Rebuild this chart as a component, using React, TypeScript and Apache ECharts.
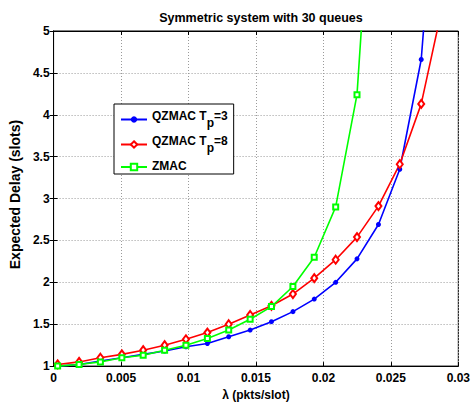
import { useEffect, useRef } from 'react';
import * as echarts from 'echarts';

const lambdaValues = [0.0003, 0.00189, 0.00347, 0.00506, 0.00664, 0.00823, 0.00981, 0.0114, 0.01298, 0.01457, 0.01615, 0.01774, 0.01932, 0.02091, 0.02249, 0.02408, 0.02566, 0.02725, 0.02883];
const qzmacTp3 = [1.0, 1.02, 1.06, 1.1, 1.14, 1.18, 1.23, 1.27, 1.35, 1.43, 1.53, 1.65, 1.8, 2.0, 2.28, 2.69, 3.35, 4.66, 7.9];
const qzmacTp8 = [1.02, 1.05, 1.1, 1.14, 1.19, 1.25, 1.32, 1.4, 1.5, 1.61, 1.72, 1.86, 2.05, 2.27, 2.54, 2.91, 3.41, 4.13, 5.3];
const zmac = [1.0, 1.02, 1.05, 1.1, 1.13, 1.19, 1.25, 1.33, 1.43, 1.56, 1.71, 1.95, 2.3, 2.9, 4.24, 8.1];
const seriesNames = ['QZMAC Tp=3', 'QZMAC Tp=8', 'ZMAC'];
const xTickLabels = ['0', '0.005', '0.01', '0.015', '0.02', '0.025', '0.03'];
const yTickLabels = ['1', '1.5', '2', '2.5', '3', '3.5', '4', '4.5', '5'];

const FONT = '"Liberation Sans", Arial, Helvetica, sans-serif';

const pair = (ys: number[]) => ys.map((y, i) => [lambdaValues[i], y]);

export default function App() {
  const ref = useRef<HTMLDivElement>(null);
  useEffect(() => {
    if (!ref.current) return;
    const chart = echarts.init(ref.current, null, { renderer: 'svg' });
    const gridLine = { show: true, lineStyle: { color: '#9a9a9a', type: [1, 2] as any, width: 1 } };
    const option: any = {
      animation: false,
      backgroundColor: '#fff',
      textStyle: { fontFamily: FONT },
      title: {
        text: 'Symmetric system with 30 queues',
        left: 256,
        textAlign: 'center',
        top: 6,
        textStyle: { fontFamily: FONT, fontSize: 12.5, fontWeight: 'bold', color: '#000' },
      },
      grid: { left: 48, top: 31, width: 414, height: 336, show: true, borderColor: '#000', borderWidth: 1, backgroundColor: 'transparent' },
      legend: {
        orient: 'vertical',
        left: 114,
        top: 104,
        padding: [6, 6, 2, 6],
        itemGap: 6,
        itemWidth: 26,
        itemHeight: 8,
        backgroundColor: '#fff',
        borderColor: '#000',
        borderWidth: 1,
        borderRadius: 0,
        data: seriesNames,
        formatter: (name: string) => {
          const m = name.match(/^(QZMAC T)p(=\d)$/);
          if (m) return `{m|${m[1]}}{sub|p}{m|${m[2]}}`;
          return `{m|${name}}`;
        },
        textStyle: {
          fontFamily: FONT,
          fontSize: 12,
          fontWeight: 'bold',
          color: '#000',
          rich: {
            m: { fontFamily: FONT, fontSize: 12, fontWeight: 'bold', color: '#000', lineHeight: 14, verticalAlign: 'top' },
            sub: { fontFamily: FONT, fontSize: 12, fontWeight: 'bold', color: '#000', lineHeight: 19, padding: [5, 0, 0, 0], verticalAlign: 'bottom' },
          },
        },
      },
      xAxis: [
        {
          type: 'value',
          min: 0,
          max: 0.03,
          interval: 0.005,
          name: 'λ (pkts/slot)',
          nameLocation: 'middle',
          nameGap: 22,
          nameTextStyle: { fontFamily: FONT, fontSize: 12, fontWeight: 'bold', color: '#000' },
          axisLine: { show: true, lineStyle: { color: '#000', width: 1 } },
          axisTick: { show: true, inside: true, length: 4, lineStyle: { color: '#000' } },
          axisLabel: {
            fontFamily: FONT, fontSize: 12, fontWeight: 'bold', color: '#000', margin: 6,
            formatter: (v: number) => xTickLabels[Math.round(v / 0.005)] ?? '',
          },
          splitLine: gridLine,
        },
        {
          type: 'value',
          position: 'top',
          min: 0,
          max: 0.03,
          interval: 0.005,
          axisLine: { show: true, lineStyle: { color: '#000', width: 1 } },
          axisTick: { show: true, inside: true, length: 4, lineStyle: { color: '#000' } },
          axisLabel: { show: false },
          splitLine: { show: false },
        },
      ],
      yAxis: [
        {
          type: 'value',
          min: 1,
          max: 5,
          interval: 0.5,
          name: 'Expected Delay (slots)',
          nameLocation: 'middle',
          nameGap: 23,
          nameTextStyle: { fontFamily: FONT, fontSize: 14, fontWeight: 'bold', color: '#000', padding: [0, 0, 0, 8] },
          axisLine: { show: true, lineStyle: { color: '#000', width: 1 } },
          axisTick: { show: true, inside: true, length: 4, lineStyle: { color: '#000' } },
          axisLabel: {
            fontFamily: FONT, fontSize: 12, fontWeight: 'bold', color: '#000', margin: 4,
            formatter: (v: number) => yTickLabels[Math.round((v - 1) / 0.5)] ?? '',
          },
          splitLine: gridLine,
        },
        {
          type: 'value',
          position: 'right',
          min: 1,
          max: 5,
          interval: 0.5,
          axisLine: { show: true, lineStyle: { color: '#000', width: 1 } },
          axisTick: { show: true, inside: true, length: 4, lineStyle: { color: '#000' } },
          axisLabel: { show: false },
          splitLine: { show: false },
        },
      ],
      series: [
        {
          name: seriesNames[0],
          type: 'line',
          data: pair(qzmacTp3),
          symbol: 'circle',
          symbolSize: 5,
          clip: true,
          lineStyle: { color: '#0000ff', width: 1.6 },
          itemStyle: { color: '#0000ff' },
        },
        {
          name: seriesNames[1],
          type: 'line',
          data: pair(qzmacTp8),
          symbol: 'emptyDiamond',
          symbolSize: [6, 8],
          clip: true,
          lineStyle: { color: '#ff0000', width: 1.6 },
          itemStyle: { color: '#ff0000', borderWidth: 1.3 },
        },
        {
          name: seriesNames[2],
          type: 'line',
          data: pair(zmac),
          symbol: 'emptyRect',
          symbolSize: 5,
          clip: true,
          lineStyle: { color: '#00ff00', width: 1.6 },
          itemStyle: { color: '#00ff00', borderWidth: 1.3 },
        },
      ],
    };
    chart.setOption(option);
    return () => chart.dispose();
  }, []);
  return <div ref={ref} style={{ position: 'fixed', left: 0, top: 0, width: 473, height: 406 }} />;
}
